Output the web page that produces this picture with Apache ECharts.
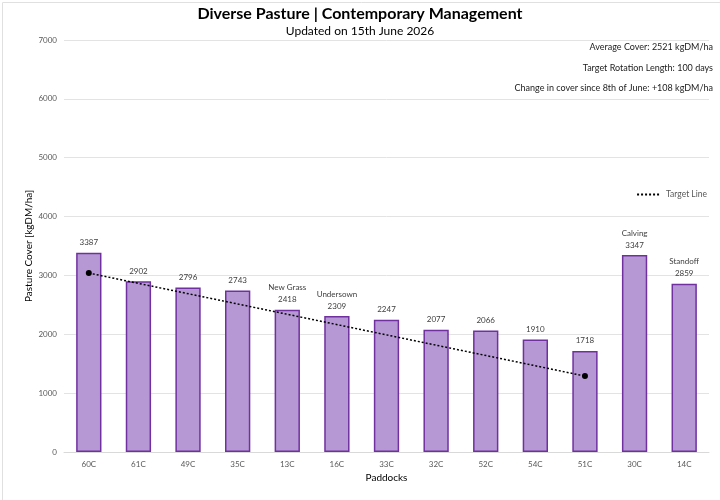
<!DOCTYPE html>
<html>
<head>
<meta charset="utf-8">
<script src="https://cdn.jsdelivr.net/npm/echarts@6/dist/echarts.min.js"></script>
<style>
* { margin: 0; padding: 0; }
body { background: #fff; }
</style>
</head>
<body>
<div id="main" style="width: 720px;height: 500px;background:#fff"></div>
<script>
// paddocks and their cover
var paddocks = ['60C', '61C', '49C', '35C', '13C', '16C', '33C', '32C', '52C', '54C', '51C', '30C', '14C'];
var cover = [3387, 2902, 2796, 2743, 2418, 2309, 2247, 2077, 2066, 1910, 1718, 3347, 2859];
var notes = ['', '', '', '', 'New Grass', 'Undersown', '', '', '', '', '', 'Calving', 'Standoff'];
// target line only has its two end points
var target = [3040, null, null, null, null, null, null, null, null, null, 1290, null, null];
var yTicks = [0, 1000, 2000, 3000, 4000, 5000, 6000, 7000];
var infoLines = [
  'Average Cover: 2521 kgDM/ha',
  'Target Rotation Length: 100 days',
  'Change in cover since 8th of June: +108 kgDM/ha'
];

var font = 'Lato, "Open Sans", sans-serif';
var chart = echarts.init(document.getElementById('main'));

chart.setOption({
  textStyle: { fontFamily: font },
  title: {
    text: 'Diverse Pasture | Contemporary Management',
    subtext: 'Updated on 15th June 2026',
    left: 'center',
    top: 1,
    itemGap: 3,
    textStyle: { fontSize: 16, fontWeight: 'bold', color: '#000', fontFamily: font },
    subtextStyle: { fontSize: 12, color: '#000', fontFamily: font }
  },
  legend: {
    data: ['Target Line'],
    right: 8,
    top: 185,
    itemWidth: 24,
    itemHeight: 8,
    itemStyle: { opacity: 0 },
    textStyle: { fontSize: 8.5, color: '#595959', fontFamily: font }
  },
  grid: { left: 64, right: 11, top: 40, bottom: 48 },
  xAxis: {
    type: 'category',
    data: paddocks,
    name: 'Paddocks',
    nameLocation: 'middle',
    nameGap: 21,
    nameTextStyle: { fontSize: 10, color: '#000', fontFamily: font },
    axisLine: { lineStyle: { color: '#d9d9d9' } },
    axisTick: { show: false },
    axisLabel: { fontSize: 8, color: '#595959', margin: 8 }
  },
  yAxis: {
    type: 'value',
    min: yTicks[0],
    max: yTicks[yTicks.length - 1],
    interval: 1000,
    name: 'Pasture Cover [kgDM/ha]',
    nameLocation: 'middle',
    nameGap: 30,
    nameMoveOverlap: false,
    nameTextStyle: { fontSize: 10, color: '#000', fontFamily: font },
    axisLine: { show: false },
    axisTick: { show: false },
    axisLabel: {
      fontSize: 8, color: '#595959', margin: 7,
      formatter: function (v) { return String(v); }
    },
    splitLine: { lineStyle: { color: '#e3e3e3' } }
  },
  graphic: [
    {
      type: 'rect',
      left: 0, top: 0,
      shape: { width: 719, height: 499 },
      style: { fill: 'none', stroke: '#e0e0e0', lineWidth: 1 },
      silent: true
    }
  ].concat(infoLines.map(function (t, i) {
    return {
      type: 'text',
      right: 7,
      top: 43 + i * 20.5,
      style: { text: t, fontSize: 9, fill: '#222', fontFamily: font }
    };
  })),
  series: [
    {
      name: 'Cover',
      type: 'bar',
      data: cover,
      barWidth: '51%',
      itemStyle: {
        color: '#b698d4',
        borderColor: '#7030a0',
        borderWidth: 1.5
      },
      label: {
        show: true,
        position: 'top',
        distance: 4,
        fontSize: 8,
        lineHeight: 12,
        color: '#404040',
        formatter: function (p) {
          var n = notes[p.dataIndex];
          return n ? n + '\n' + p.value : '' + p.value;
        }
      }
    },
    {
      name: 'Target Line',
      type: 'line',
      data: target,
      connectNulls: true,
      symbol: 'circle',
      symbolSize: 6,
      itemStyle: { color: '#000' },
      lineStyle: { color: '#000', width: 1.5, type: [2, 2] },
      z: 5
    }
  ]
});
</script>
</body>
</html>
